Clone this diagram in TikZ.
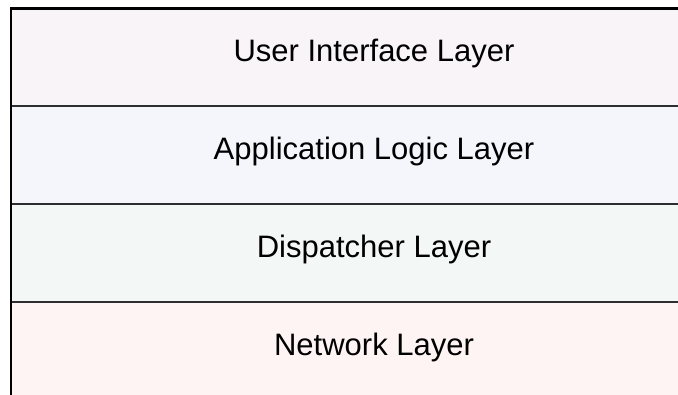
\documentclass[tikz,border=0pt]{standalone}
\usepackage{fontspec}
\setmainfont{Liberation Sans}
\definecolor{uicol}{HTML}{F9F4F8}
\definecolor{logiccol}{HTML}{F5F6FB}
\definecolor{dispcol}{HTML}{F3F7F6}
\definecolor{netcol}{HTML}{FEF4F3}
\definecolor{edgecol}{HTML}{2E2E2E}
\tikzset{
  layer/.style={rectangle, draw=edgecol, line width=2pt, outer sep=0pt,
    minimum width=726pt, minimum height=98pt, inner sep=0pt,
    text height=28pt, text depth=20pt, font=\fontsize{31}{37}\selectfont}
}

\begin{document}
\begin{tikzpicture}[x=1pt,y=1pt]
\useasboundingbox (0,0) rectangle (678,395);
\clip (0,0) rectangle (678,395);

% user interface layer
\node[layer,fill=uicol] (ui) at (374,337.5) {User Interface Layer};

% application logic layer
\node[layer,fill=logiccol,anchor=north] (logic) at (ui.south) {Application Logic Layer};

% dispatcher layer
\node[layer,fill=dispcol,anchor=north] (disp) at (logic.south) {Dispatcher Layer};

% network layer
\node[layer,fill=netcol,anchor=north] (net) at (disp.south) {Network Layer};

% outer frame
\draw[line width=2.2pt] (net.south west) -- (ui.north west) -- (ui.north east);

\end{tikzpicture}
\end{document}
